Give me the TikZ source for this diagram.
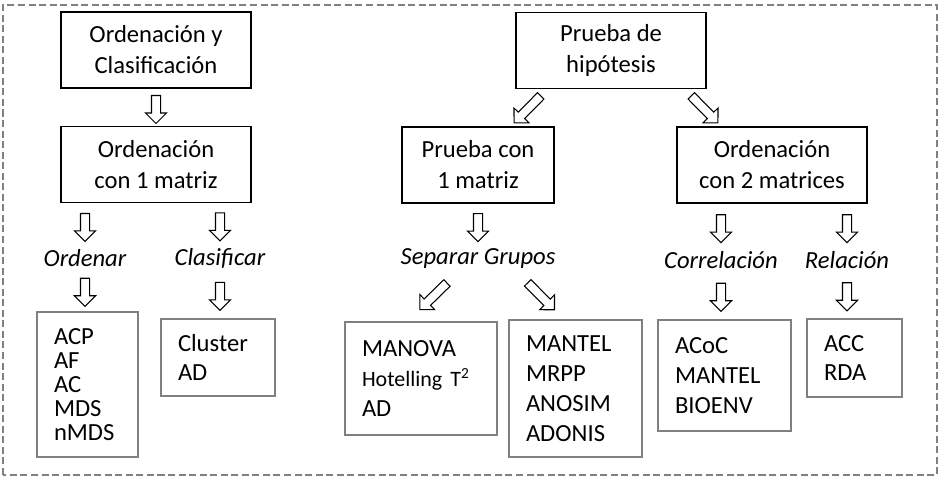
\documentclass[tikz,border=0pt]{standalone}
\usepackage{fontspec}
\setmainfont{Carlito}
\usetikzlibrary{shapes.arrows}

\begin{document}
\begin{tikzpicture}[
		topbox/.style={draw, line width=0.8pt, align=center, minimum width=3.8cm,
			minimum height=1.52cm, font=\fontsize{14}{17.6}\selectfont},
		listbox/.style={draw=gray, line width=0.8pt, align=left, inner xsep=0.34cm,
			font=\fontsize{14}{17}\selectfont},
		tag/.style={inner sep=1pt, font=\fontsize{14}{17}\selectfont\itshape},
		fatarrow/.style={single arrow, draw, fill=white, line width=0.6pt,
			minimum width=0.4cm, single arrow head extend=0.12cm, minimum height=0.56cm,
			inner xsep=0pt, inner ysep=0.08cm, sloped, allow upside down},
		longer/.style={minimum height=0.76cm}]
	\useasboundingbox (0,0) rectangle (18.84,9.62);
	\draw[gray, dash pattern=on 4pt off 2pt, line width=0.6pt] (0.06,0.12) rectangle (18.74,9.52);

	% left branch
	\node[topbox] (oc) at (3.12,8.62) {Ordenación y\\Clasificación};
	\node[topbox] (o1) at (3.12,6.33) {Ordenación\\con 1 matriz};
	\node[tag] (ordenar) at (1.70,4.46) {Ordenar};
	\node[tag] (clasif) at (4.40,4.46) {Clasificar};
	\node[listbox, text width=1.34cm, minimum height=2.9cm,
		font=\fontsize{14}{13.6}\selectfont] (lst1) at (1.75,1.93) {ACP\\AF\\AC\\MDS\\nMDS};
	\node[listbox, text width=1.6cm, minimum height=1.54cm] (lst2) at (4.36,2.47) {Cluster\\AD};

	% right branch
	\node[topbox] (hyp) at (12.22,8.61) {Prueba de\\hipótesis};
	\node[topbox, minimum width=3.04cm] (p1) at (9.56,6.32) {Prueba con\\1 matriz};
	\node[topbox] (o2) at (15.44,6.32) {Ordenación\\con 2 matrices};
	\node[tag] (sep) at (9.56,4.44) {Separar Grupos};
	\node[tag] (corr) at (14.42,4.42) {Correlación};
	\node[tag] (rel) at (16.94,4.42) {Relación};
	\node[listbox, text width=2.36cm, minimum height=2.26cm] (lst3) at (8.42,2.05)
		{MANOVA\\\mbox{\fontsize{12.5}{17}\selectfont Hotelling T\textsuperscript{2}}\\AD};
	\node[listbox, text width=1.98cm, minimum height=2.74cm] (lst4) at (11.51,1.85)
		{MANTEL\\MRPP\\ANOSIM\\ADONIS};
	\node[listbox, text width=1.98cm, minimum height=2.22cm] (lst5) at (14.49,2.11)
		{ACoC\\MANTEL\\BIOENV};
	\node[listbox, text width=1.22cm, minimum height=1.56cm] (lst6) at (17.09,2.46)
		{ACC\\RDA};

	% block arrows
	\path (oc) -- (o1) node[midway, fatarrow] {};
	\path (p1) -- (sep) node[midway, fatarrow] {};
	\foreach \a/\b in {o1/ordenar, o1/clasif, o2/corr, o2/rel}
		{
			\path (\a.south -| \b.north) -- (\b.north) node[midway, fatarrow] {};
		}
	\foreach \a/\b in {ordenar/lst1, clasif/lst2, corr/lst5, rel/lst6}
		{
			\path (\a.south) -- (\a.south |- \b.north) node[midway, fatarrow] {};
		}
	\path ([xshift=0.64cm]hyp.south west) -- ([xshift=-0.88cm]p1.north east)
		node[midway, fatarrow, longer] {};
	\path ([xshift=-0.44cm]hyp.south east) -- ([xshift=0.9cm]o2.north west)
		node[midway, fatarrow, longer] {};
	\path ([xshift=-0.46cm,yshift=-0.08cm]sep.south) -- ([xshift=-0.12cm,yshift=0.14cm]lst3.north)
		node[midway, fatarrow, longer] {};
	\path ([xshift=0.84cm,yshift=-0.08cm]sep.south) -- ([xshift=-0.33cm,yshift=0.1cm]lst4.north)
		node[midway, fatarrow, longer] {};
\end{tikzpicture}
\end{document}
